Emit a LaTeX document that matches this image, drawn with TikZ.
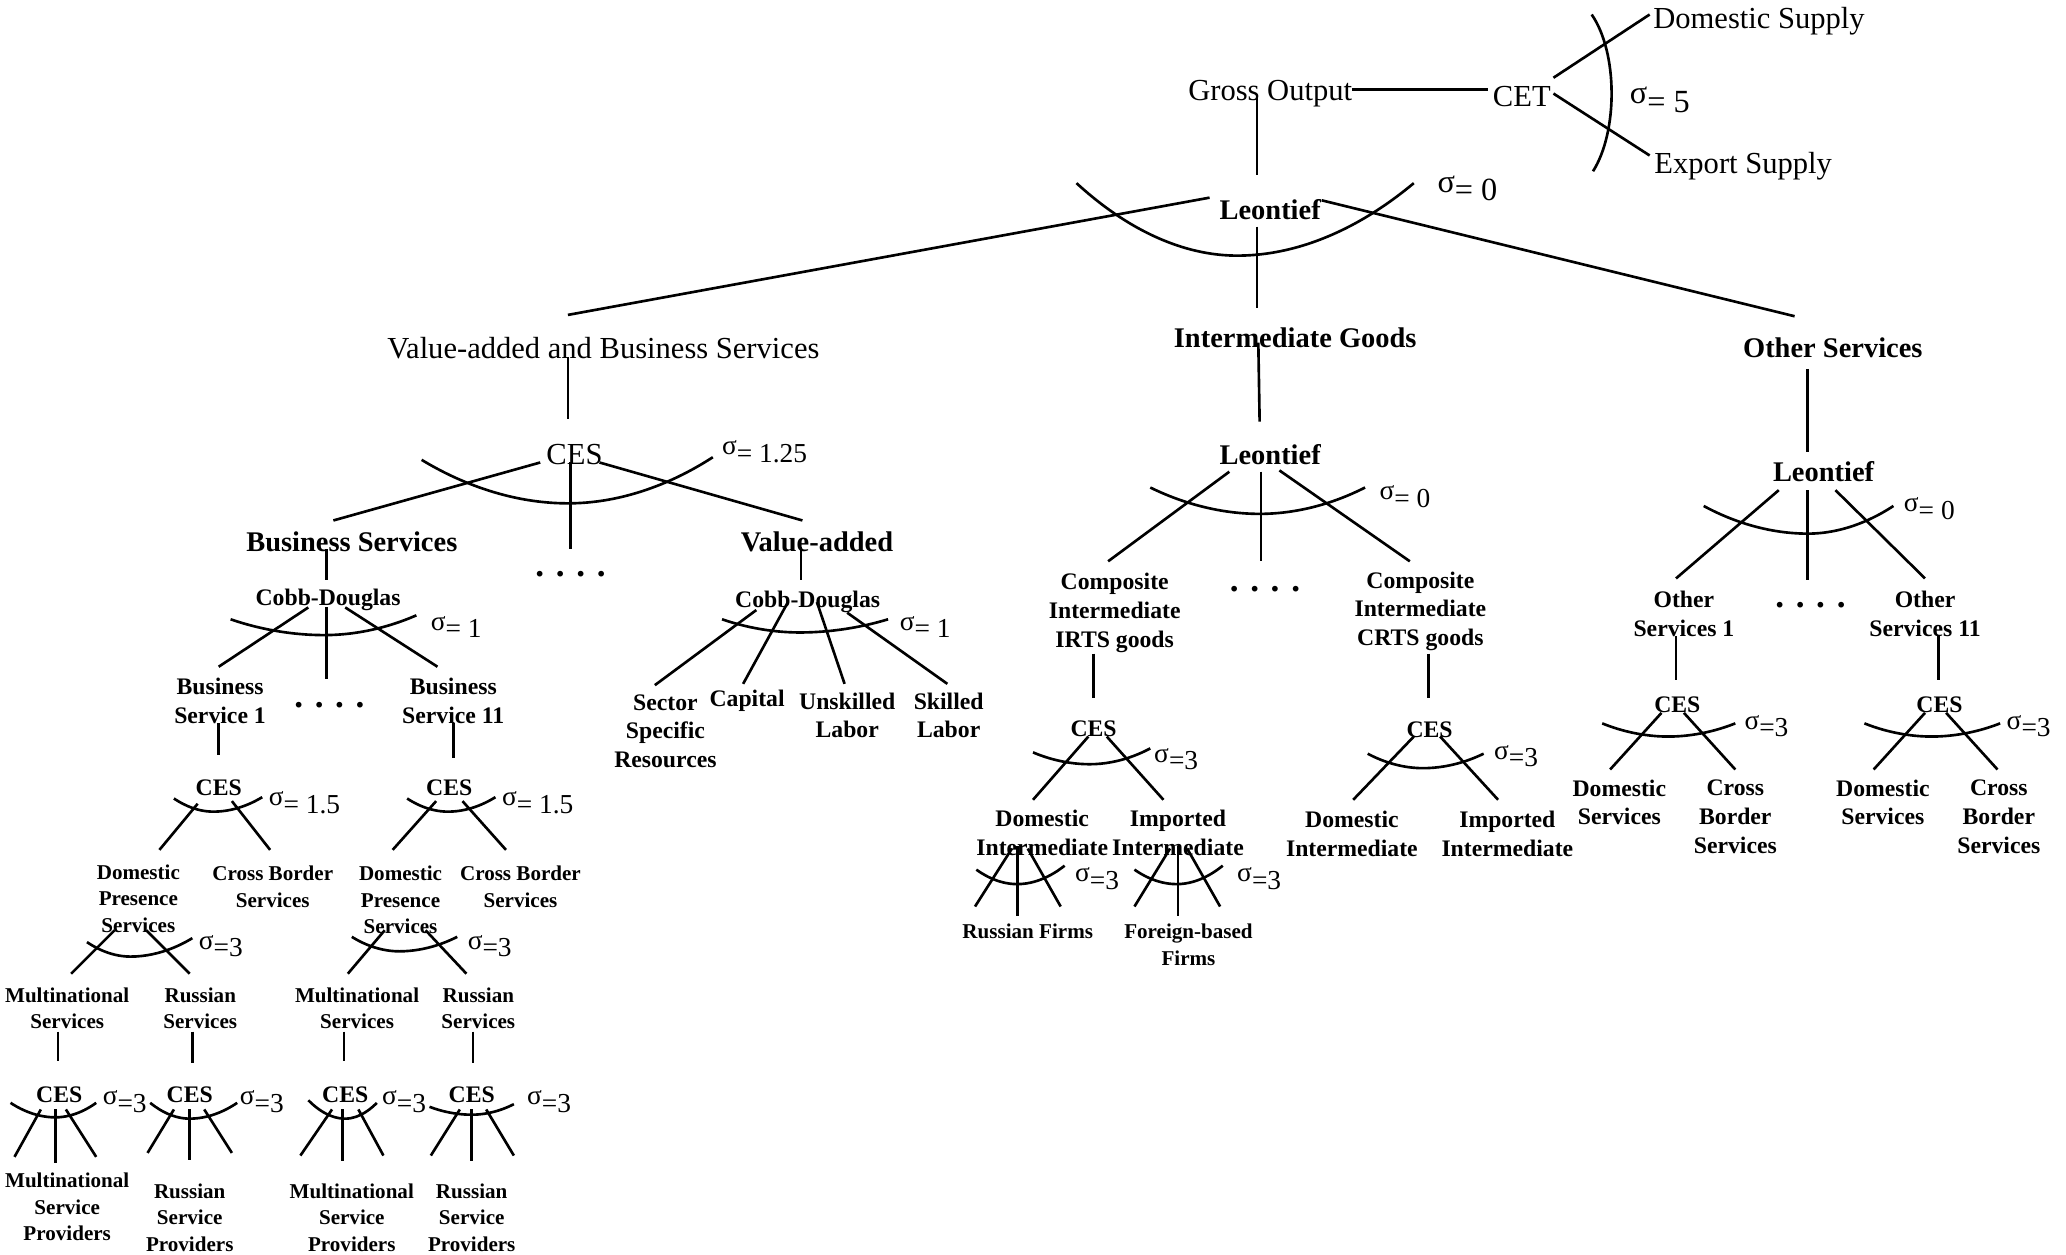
\documentclass[tikz,border=0pt]{standalone}
\usepackage{fontspec}
\setmainfont{Liberation Serif}
\usetikzlibrary{calc}
\newcommand{\sig}[1]{σ\raisebox{-.6ex}{#1}}

\begin{document}
\begin{tikzpicture}[x={(0.013176cm,0)},y={(0,-0.013176cm)},line width=.75pt,
  lbl/.style={inner sep=0pt, font=\fontsize{8.7}{10}\selectfont},
  lblb/.style={inner sep=0pt, font=\bfseries\fontsize{8.1}{10}\selectfont},
  lblm/.style={inner sep=0pt, align=center, font=\bfseries\fontsize{6.75}{8.2}\selectfont},
  lbls/.style={inner sep=0pt, align=center, font=\bfseries\fontsize{6}{7.5}\selectfont},
  sg/.style={anchor=west, inner sep=0pt, font=\fontsize{9.2}{10}\selectfont},
  sgs/.style={anchor=west, inner sep=0pt, font=\fontsize{7.8}{9}\selectfont},
  etc/.style={inner sep=0pt, font=\bfseries\fontsize{10}{11}\selectfont}]
  \useasboundingbox (0,0) rectangle (1568,952);

  \node[lbl] (gross) at (964,71) {Gross Output};
  \node[lbl] (cet) at (1155,73) {CET};
  \node[lbl] (dsup) at (1335,16) {Domestic Supply};
  \node[lbl] (esup) at (1323,126) {Export Supply};
  \node[lblb] (leo) at (964,159) {Leontief};
  \node[lbl] (vabs) at (458,264) {Value-added and Business Services};
  \node[lblb] (ig) at (983,256) {Intermediate Goods};
  \node[lblb] (os) at (1391,264) {Other Services};

  \node[lbl] (ces) at (436,345) {CES};
  \node[lblb] (leoi) at (964,345) {Leontief};
  \node[lblb] (leoo) at (1384,358) {Leontief};
  \node[lblb] (bs) at (267,411) {Business Services};
  \node[etc] (etca) at (433,436) {. . . .};
  \node[lblb] (va) at (620,411) {Value-added};

  \node[lblm] (cdb) at (249,455) {Cobb-Douglas};
  \node[lblm] (cdv) at (613,457) {Cobb-Douglas};
  \node[lblm] (bs1) at (167,532) {Business\\Service 1};
  \node[etc] (etcb) at (250,535) {. . . .};
  \node[lblm] (bs11) at (344,532) {Business\\Service 11};
  \node[lblm] (sec) at (505,555) {Sector\\Specific\\Resources};
  \node[lblm] (cap) at (567,532) {Capital};
  \node[lblm] (unsk) at (643,543) {Unskilled\\Labor};
  \node[lblm] (skl) at (720,543) {Skilled\\Labor};

  \node[lblm] (cirts) at (846,465) {Composite\\Intermediate\\IRTS goods};
  \node[etc] (etcc) at (960,447) {. . . .};
  \node[lblm] (ccrts) at (1078,464) {Composite\\Intermediate\\CRTS goods};
  \node[lblm] (cesi) at (830,553) {CES};
  \node[lblm] (cesc) at (1085,554) {CES};
  \node[lblm] (dint1) at (791,632) {Domestic\\Intermediate};
  \node[lblm] (iint1) at (894,632) {Imported\\Intermediate};
  \node[lblm] (dint2) at (1026,633) {Domestic\\Intermediate};
  \node[lblm] (iint2) at (1144,633) {Imported\\Intermediate};
  \node[lbls] (rf) at (780,707) {Russian Firms};
  \node[lbls] (fbf) at (902,717) {Foreign-based\\Firms};

  \node[lblm] (os1) at (1278,466) {Other\\Services 1};
  \node[etc] (etco) at (1374,459) {. . . .};
  \node[lblm] (os11) at (1461,466) {Other\\Services 11};
  \node[lblm] (ceso1) at (1273,535) {CES};
  \node[lblm] (ceso2) at (1472,535) {CES};
  \node[lblm] (dso1) at (1229,609) {Domestic\\Services};
  \node[lblm] (cbo1) at (1317,620) {Cross\\Border\\Services};
  \node[lblm] (dso2) at (1429,609) {Domestic\\Services};
  \node[lblm] (cbo2) at (1517,620) {Cross\\Border\\Services};

  \node[lblm] (cesb1) at (166,598) {CES};
  \node[lblm] (cesb2) at (341,598) {CES};
  \node[lbls] (dps1) at (105,682) {Domestic\\Presence\\Services};
  \node[lbls] (cbs1) at (207,673) {Cross Border\\Services};
  \node[lbls] (dps2) at (304,683) {Domestic\\Presence\\Services};
  \node[lbls] (cbs2) at (395,673) {Cross Border\\Services};
  \node[lbls] (mns1) at (51,765) {Multinational\\Services};
  \node[lbls] (rs1) at (152,765) {Russian\\Services};
  \node[lbls] (mns2) at (271,765) {Multinational\\Services};
  \node[lbls] (rs2) at (363,765) {Russian\\Services};
  \node[lblm] (cesm1) at (45,831) {CES};
  \node[lblm] (cesr1) at (144,831) {CES};
  \node[lblm] (cesm2) at (262,831) {CES};
  \node[lblm] (cesr2) at (358,831) {CES};
  \node[lbls] (msp1) at (51,916) {Multinational\\Service\\Providers};
  \node[lbls] (rsp1) at (144,924) {Russian\\Service\\Providers};
  \node[lbls] (msp2) at (267,924) {Multinational\\Service\\Providers};
  \node[lbls] (rsp2) at (358,924) {Russian\\Service\\Providers};

  \node[sg] (s1) at (1236,76) {\sig{= 5}};
  \node[sg] (s2) at (1090,143) {\sig{= 0}};
  \node[sgs] (s3) at (547,343) {\sig{= 1.25}};
  \node[sgs] (s4) at (326,476) {\sig{= 1}};
  \node[sgs] (s5) at (682,476) {\sig{= 1}};
  \node[sgs] (s6) at (1046,377) {\sig{= 0}};
  \node[sgs] (s7) at (1444,386) {\sig{= 0}};
  \node[sgs] (s8) at (203,609) {\sig{= 1.5}};
  \node[sgs] (s9) at (380,609) {\sig{= 1.5}};
  \node[sgs] (s10) at (150,718) {\sig{=3}};
  \node[sgs] (s11) at (354,718) {\sig{=3}};
  \node[sgs] (s12) at (77,836) {\sig{=3}};
  \node[sgs] (s13) at (181,836) {\sig{=3}};
  \node[sgs] (s14) at (289,836) {\sig{=3}};
  \node[sgs] (s15) at (399,836) {\sig{=3}};
  \node[sgs] (s16) at (875,576) {\sig{=3}};
  \node[sgs] (s17) at (815,667) {\sig{=3}};
  \node[sgs] (s18) at (938,667) {\sig{=3}};
  \node[sgs] (s19) at (1133,574) {\sig{=3}};
  \node[sgs] (s20) at (1323,551) {\sig{=3}};
  \node[sgs] (s21) at (1522,551) {\sig{=3}};

  \foreach \a/\ax/\ay/\b/\bx/\by in {
    gross/62/-3/cet/-26/-5, cet/24/-14/dsup/-83/-5, cet/24/-2/esup/-71/-8,
    gross/-10/2/leo/-10/-26, leo/-46/-9/vabs/-27/-25, leo/39/-7/os/-29/-24,
    leo/-10/13/ig/-29/-22, vabs/-27/7/ces/-5/-27, ig/-28/4/leoi/-8/-25,
    os/-19/16/leoo/-12/-15,
    ces/-26/6/bs/-14/-16, ces/19/6/va/-11/-16, ces/-3/6/etca/0/-19,
    bs/-19/6/cdb/-1/-15, cdb/-15/6/bs1/-1/-26, cdb/-1/6/etcb/-2/-20,
    cdb/13/6/bs11/-12/-26, bs1/-1/17/cesb1/0/-25, bs11/0/17/cesb2/3/-23,
    cesb1/-16/12/dps1/16/-37, cesb1/10/10/cbs1/-2/-28,
    cesb2/-10/10/dps2/-6/-38, cesb2/10/10/cbs2/-11/-28,
    dps1/-18/24/mns1/3/-26, dps1/6/24/rs1/-8/-26,
    dps2/-12/23/mns2/-7/-26, dps2/19/23/rs2/-9/-26,
    mns1/-7/18/cesm1/-1/-26, rs1/-6/18/cesr1/2/-24,
    mns2/-10/18/cesm2/-1/-26, rs2/-4/18/cesr2/1/-24,
    cesm1/-14/11/msp1/-40/-38, cesm1/-3/11/msp1/-9/-33, cesm1/5/11/msp1/22/-38,
    cesr1/-12/11/rsp1/-32/-49, cesr1/0/11/rsp1/0/-44, cesr1/11/11/rsp1/32/-49,
    cesm2/-10/11/msp2/-39/-47, cesm2/-2/11/msp2/-7/-43, cesm2/10/11/msp2/24/-47,
    cesr2/-9/11/rsp2/-31/-47, cesr2/0/11/rsp2/0/-43, cesr2/11/11/rsp2/32/-47,
    va/-12/4/cdv/-5/-17, cdv/-39/6/sec/-8/-35, cdv/-15/0/cap/-3/-13,
    cdv/7/0/unsk/-2/-24, cdv/30/8/skl/-1/-24,
    leoi/-31/13/cirts/-5/-39, leoi/-7/13/etcc/-3/-21, leoi/7/12/ccrts/-8/-38,
    cirts/-16/31/cesi/0/-23, cesi/-4/6/dint1/-7/-25, cesi/10/6/iint1/-11/-25,
    dint1/-23/12/rf/-40/-19, dint1/-19/10/rf/-8/-12, dint1/-11/12/rf/25/-19,
    iint1/-6/12/fbf/-41/-29, iint1/0/10/fbf/-8/-22, iint1/7/12/fbf/24/-29,
    ccrts/6/32/cesc/-1/-24, cesc/-12/5/dint2/1/-26, cesc/8/5/iint2/-7/-26,
    leoo/-34/14/os1/-6/-27, leoo/-12/14/etco/-2/-19, leoo/9/14/os11/0/-27,
    os1/-6/17/ceso1/-1/-19, os11/10/17/ceso2/-1/-19,
    ceso1/-12/6/dso1/-7/-25, ceso1/5/6/cbo1/0/-36,
    ceso2/-11/6/dso2/-7/-25, ceso2/5/6/cbo2/-1/-36}
    \draw ($(\a)+(\ax,\ay)$) -- ($(\b)+(\bx,\by)$);

  \draw (1208,11) .. controls (1228,40) and (1228,100) .. (1209,130);
  \foreach \lx/\ly/\bx/\by/\rx/\ry in {
    817/139/939/194/1073/139, 320/349/431/382/541/347, 175/470/246/482/316/467,
    548/470/607/480/674/470, 873/370/956/390/1036/370, 1293/384/1372/405/1437/384,
    132/606/162/616/199/605, 309/606/340/616/376/605, 66/715/99/726/146/712,
    267/711/303/722/347/711, 8/837/42/848/73/837, 114/837/144/849/180/837,
    234/835/262/849/286/837, 326/840/358/846/390/838, 784/571/827/580/873/568,
    741/660/772/671/808/657, 861/660/893/671/928/657, 1038/572/1080/583/1126/572,
    1216/549/1266/559/1317/549, 1415/549/1466/559/1518/549}
    \draw (\lx,\ly) parabola bend (\bx,\by) (\rx,\ry);
\end{tikzpicture}
\end{document}
